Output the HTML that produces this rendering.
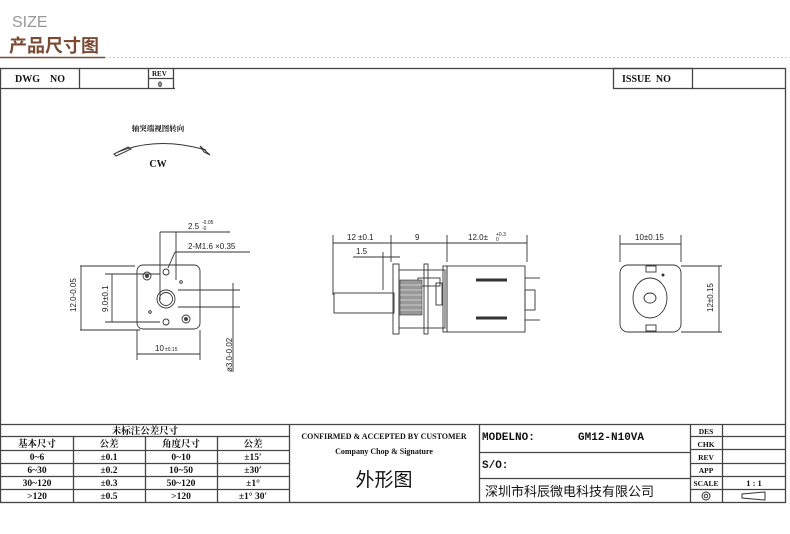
<!DOCTYPE html>
<html><head><meta charset="utf-8"><style>
html,body{margin:0;padding:0;background:#fff;}
svg{display:block;}
.b{font-family:"Liberation Serif","Noto Serif CJK SC",serif;font-weight:bold;fill:#111;}
.s{font-family:"Liberation Sans","Noto Sans CJK SC",sans-serif;fill:#222;}
.m{font-family:"Liberation Mono","Noto Sans CJK SC",monospace;fill:#111;font-weight:bold;}
</style></head><body>
<svg width="790" height="534" viewBox="0 0 790 534" xmlns="http://www.w3.org/2000/svg">
<text x="12" y="27" class="s" font-size="16" style="fill:#999">SIZE</text>
<text x="9" y="52" font-family="Noto Sans CJK SC,sans-serif" font-weight="bold" font-size="18" fill="#7a4a32">产品尺寸图</text>
<line x1="0" y1="57.5" x2="105" y2="57.5" stroke="#7a4a32" stroke-width="1.5"/>
<line x1="105" y1="57.5" x2="790" y2="57.5" stroke="#ccc" stroke-dasharray="2,2"/>
<g fill="none" stroke="#444" stroke-width="1.3">
<rect x="0.5" y="68.5" width="785" height="434"/>
<line x1="0" y1="88.5" x2="175" y2="88.5"/>
<line x1="79.5" y1="68" x2="79.5" y2="88"/>
<line x1="148.5" y1="68" x2="148.5" y2="88"/>
<line x1="173.5" y1="68" x2="173.5" y2="88"/>
<line x1="148" y1="78.5" x2="174" y2="78.5"/>
<rect x="613.5" y="68.5" width="79" height="20"/>
<line x1="692" y1="88.5" x2="785" y2="88.5"/>
<line x1="0" y1="424.5" x2="786" y2="424.5"/>
<line x1="0" y1="436.5" x2="289" y2="436.5"/>
<line x1="0" y1="450.5" x2="289" y2="450.5"/>
<line x1="0" y1="463.5" x2="289" y2="463.5"/>
<line x1="0" y1="476.5" x2="289" y2="476.5"/>
<line x1="0" y1="489.5" x2="289" y2="489.5"/>
<line x1="73.5" y1="436" x2="73.5" y2="502"/>
<line x1="145.5" y1="436" x2="145.5" y2="502"/>
<line x1="217.5" y1="436" x2="217.5" y2="502"/>
<line x1="289.5" y1="424" x2="289.5" y2="502"/>
<line x1="479.5" y1="424" x2="479.5" y2="502"/>
<line x1="479" y1="452.5" x2="690" y2="452.5"/>
<line x1="479" y1="478.5" x2="690" y2="478.5"/>
<line x1="690.5" y1="424" x2="690.5" y2="502"/>
<line x1="722.5" y1="424" x2="722.5" y2="502"/>
<line x1="690" y1="436.5" x2="786" y2="436.5"/>
<line x1="690" y1="449.5" x2="786" y2="449.5"/>
<line x1="690" y1="463.5" x2="786" y2="463.5"/>
<line x1="690" y1="476.5" x2="786" y2="476.5"/>
<line x1="690" y1="489.5" x2="786" y2="489.5"/>
</g>
<text x="15" y="82" class="b" font-size="10">DWG&#160;&#160;&#160;&#160;NO</text>
<text x="152" y="76" class="b" font-size="7">REV</text>
<text x="158" y="87" class="b" font-size="8">0</text>
<text x="622" y="82" class="b" font-size="10">ISSUE&#160;&#160;NO</text>
<g class="b" font-size="9.5" text-anchor="middle">
<text x="145" y="434">未标注公差尺寸</text>
<text x="37" y="447">基本尺寸</text><text x="109" y="447">公差</text><text x="181" y="447">角度尺寸</text><text x="253" y="447">公差</text>
<text x="37" y="460">0~6</text><text x="109" y="460">±0.1</text><text x="181" y="460">0~10</text><text x="253" y="460">±15′</text>
<text x="37" y="473">6~30</text><text x="109" y="473">±0.2</text><text x="181" y="473">10~50</text><text x="253" y="473">±30′</text>
<text x="37" y="486">30~120</text><text x="109" y="486">±0.3</text><text x="181" y="486">50~120</text><text x="253" y="486">±1°</text>
<text x="37" y="499">&gt;120</text><text x="109" y="499">±0.5</text><text x="181" y="499">&gt;120</text><text x="253" y="499">±1° 30′</text>
<text x="384" y="439" font-size="8">CONFIRMED &amp; ACCEPTED BY CUSTOMER</text>
<text x="384" y="454" font-size="8">Company Chop &amp; Signature</text>
</g>
<text x="384" y="486" text-anchor="middle" font-family="Noto Sans CJK SC,sans-serif" font-size="19" fill="#111">外形图</text>
<text x="482" y="440" class="m" font-size="11">MODELNO:</text>
<text x="578" y="440" class="m" font-size="11">GM12-N10VA</text>
<text x="482" y="468" class="m" font-size="11">S/O:</text>
<text x="485" y="496" font-family="Noto Sans CJK SC,sans-serif" font-size="13" fill="#111">深圳市科辰微电科技有限公司</text>
<g class="b" font-size="7.5" text-anchor="middle">
<text x="706" y="434">DES</text><text x="706" y="447">CHK</text><text x="706" y="460">REV</text><text x="706" y="473">APP</text><text x="706" y="486">SCALE</text>
<text x="754" y="486" font-size="8.5">1 : 1</text>
</g>
<circle cx="706" cy="496" r="4" fill="none" stroke="#333"/><circle cx="706" cy="496" r="1.8" fill="none" stroke="#333"/>
<path d="M742 494 L765 492 L765 500 L742 498 Z" fill="none" stroke="#333"/>
<text x="158" y="131" text-anchor="middle" class="b" font-size="7.5">轴突端视图转向</text>
<path d="M118 152 Q158 136 206 150" fill="none" stroke="#333"/>
<path d="M114 154 L128 147 L131 149 L116 156Z M200 146 L210 155 L204 152Z" fill="none" stroke="#333"/>
<text x="158" y="167" text-anchor="middle" class="b" font-size="10">CW</text>
<g fill="none" stroke="#333" stroke-width="0.9">
<rect x="137" y="265" width="63" height="64" rx="6"/>
<circle cx="147" cy="276" r="4"/><circle cx="186" cy="319" r="4"/>
<circle cx="166" cy="272" r="3"/><circle cx="166" cy="322" r="3"/>
<circle cx="166" cy="299" r="9"/><circle cx="166" cy="299" r="6.5"/>
<circle cx="181" cy="282" r="1.3"/><circle cx="150" cy="312" r="1.3"/>
<line x1="80" y1="266" x2="135" y2="266"/><line x1="80" y1="330" x2="140" y2="330"/>
<line x1="81" y1="266" x2="81" y2="330"/>
<line x1="105" y1="274" x2="160" y2="274"/><line x1="105" y1="322" x2="160" y2="322"/>
<line x1="112" y1="274" x2="112" y2="322"/>
<line x1="137" y1="330" x2="137" y2="360"/><line x1="200" y1="330" x2="200" y2="360"/>
<line x1="137" y1="354" x2="200" y2="354"/>
<line x1="160" y1="232" x2="230" y2="232"/>
<line x1="160" y1="232" x2="160" y2="300"/><line x1="176" y1="232" x2="176" y2="280"/>
<line x1="175" y1="252" x2="250" y2="252"/><line x1="175" y1="252" x2="168" y2="268"/>
<line x1="178" y1="290" x2="240" y2="290"/><line x1="178" y1="307" x2="240" y2="307"/>
<line x1="233" y1="283" x2="233" y2="372"/>
</g>
<g fill="#444"><circle cx="147" cy="276" r="2"/><circle cx="186" cy="319" r="2"/></g>
<g class="s" font-size="8">
<text x="188" y="229">2.5</text><text x="202" y="224" font-size="5">-0.05</text><text x="202" y="230" font-size="5">-0</text>
<text x="188" y="249">2-M1.6 ×0.35</text>
<text x="155" y="351">10</text><text x="165" y="351" font-size="5">±0.15</text>
<text transform="translate(76,312) rotate(-90)">12.0-0.05</text>
<text transform="translate(108,312) rotate(-90)">9.0±0.1</text>
<text transform="translate(232,372) rotate(-90)">ø3.0-0.02</text>
</g>
<g fill="none" stroke="#333" stroke-width="0.9">
<rect x="334" y="293" width="60" height="20"/>
<rect x="393" y="264" width="6" height="70"/>
<rect x="399" y="270" width="46" height="58"/>
<rect x="424" y="264" width="4" height="70"/>
<rect x="443" y="266" width="4" height="66"/>
<rect x="447" y="266" width="78" height="66"/>
<rect x="418" y="278" width="22" height="8"/><rect x="436" y="283" width="6" height="22"/>
<line x1="476" y1="280" x2="507" y2="280" stroke-width="3"/>
<line x1="476" y1="318" x2="507" y2="318" stroke-width="3"/>
<line x1="525" y1="278" x2="540" y2="278"/><line x1="525" y1="320" x2="540" y2="320"/>
<rect x="525" y="290" width="10" height="20"/>
<line x1="333" y1="235" x2="333" y2="295"/><line x1="391" y1="235" x2="391" y2="262"/>
<line x1="447" y1="235" x2="447" y2="262"/><line x1="527" y1="235" x2="527" y2="262"/>
<line x1="333" y1="243" x2="527" y2="243"/>
<line x1="353" y1="257" x2="400" y2="257"/><line x1="383" y1="252" x2="383" y2="290"/>
</g>
<rect x="400" y="280" width="22" height="35" fill="#999" stroke="#333" stroke-width="0.6"/>
<g stroke="#fff" stroke-width="0.6"><line x1="400" y1="285" x2="422" y2="285"/><line x1="400" y1="290" x2="422" y2="290"/><line x1="400" y1="295" x2="422" y2="295"/><line x1="400" y1="300" x2="422" y2="300"/><line x1="400" y1="305" x2="422" y2="305"/><line x1="400" y1="310" x2="422" y2="310"/></g>
<g class="s" font-size="8">
<text x="347" y="240">12 ±0.1</text><text x="415" y="240">9</text>
<text x="468" y="240">12.0±</text><text x="496" y="236" font-size="5">+0.3</text><text x="496" y="241" font-size="5">0</text>
<text x="356" y="254">1.5</text>
<text x="635" y="240">10±0.15</text>
<text transform="translate(713,312) rotate(-90)">12±0.15</text>
</g>
<g fill="none" stroke="#333" stroke-width="0.9">
<rect x="620" y="265" width="61" height="67" rx="8"/>
<ellipse cx="650" cy="298" rx="17" ry="20"/>
<ellipse cx="650" cy="298" rx="6" ry="5"/>
<rect x="646" y="266" width="10" height="6"/><rect x="646" y="325" width="10" height="6"/>
<line x1="620" y1="235" x2="620" y2="262"/><line x1="681" y1="235" x2="681" y2="262"/>
<line x1="620" y1="244" x2="681" y2="244"/>
<line x1="681" y1="266" x2="722" y2="266"/><line x1="681" y1="332" x2="722" y2="332"/>
<line x1="719" y1="266" x2="719" y2="332"/>
</g>
<circle cx="663" cy="275" r="1.5" fill="#333"/>
</svg>
</body></html>
